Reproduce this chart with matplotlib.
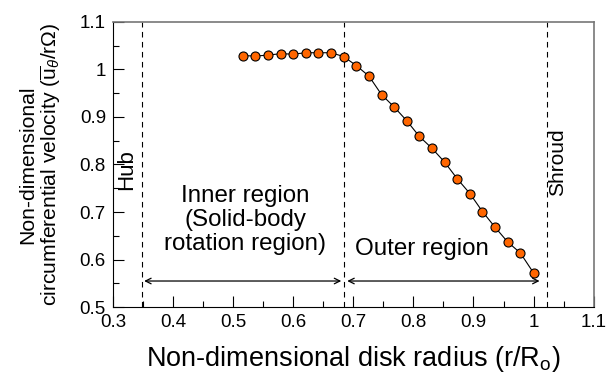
import matplotlib
matplotlib.use("Agg")
import matplotlib.pyplot as plt
from matplotlib.ticker import MultipleLocator

plt.rcParams['font.family'] = ['Liberation Sans', 'DejaVu Sans']
plt.rcParams['mathtext.fontset'] = 'custom'
plt.rcParams['mathtext.rm'] = 'Liberation Sans'
plt.rcParams['mathtext.it'] = 'Liberation Sans:italic'

# Data
radius = [0.516, 0.537, 0.558, 0.579, 0.600, 0.621, 0.642, 0.663, 0.684,
          0.705, 0.726, 0.747, 0.768, 0.789, 0.810, 0.831, 0.852, 0.873,
          0.894, 0.915, 0.936, 0.957, 0.978, 1.000]
velocity = [1.029, 1.028, 1.030, 1.033, 1.032, 1.035, 1.035, 1.035, 1.027,
            1.008, 0.986, 0.947, 0.921, 0.892, 0.859, 0.834, 0.805, 0.770,
            0.739, 0.701, 0.668, 0.637, 0.614, 0.572]
hub_r = 0.348
split_r = 0.685
shroud_r = 1.023
xt = [0.3, 0.4, 0.5, 0.6, 0.7, 0.8, 0.9, 1.0, 1.1]
xt_labels = ['0.3', '0.4', '0.5', '0.6', '0.7', '0.8', '0.9', '1', '1.1']
yt = [0.5, 0.6, 0.7, 0.8, 0.9, 1.0, 1.1]
yt_labels = ['0.5', '0.6', '0.7', '0.8', '0.9', '1', '1.1']

fig, ax = plt.subplots(figsize=(6.07, 3.83), dpi=100)
fig.subplots_adjust(left=0.186, right=0.978, top=0.943, bottom=0.198)

ax.plot(radius, velocity, '-', color='black', lw=0.8, marker='o', ms=6.5,
        mfc='#FF6600', mec='black', mew=0.8, zorder=3)

for xv in (hub_r, split_r, shroud_r):
    ax.axvline(xv, color='black', ls=(0, (5, 4)), lw=0.8)

arrow = dict(arrowstyle='<->', color='black', lw=0.9, shrinkA=0, shrinkB=0)
ax.annotate('', xy=(0.352, 0.555), xytext=(0.680, 0.555), arrowprops=arrow)
ax.annotate('', xy=(0.690, 0.555), xytext=(1.010, 0.555), arrowprops=arrow)

ax.text(0.323, 0.789, 'Hub', rotation=90, ha='center', va='center', fontsize=16)
ax.text(1.040, 0.804, 'Shroud', rotation=90, ha='center', va='center', fontsize=15)
ax.text(0.520, 0.683, 'Inner region\n(Solid-body\nrotation region)',
        ha='center', va='center', fontsize=17.4, linespacing=1.13)
ax.text(0.814, 0.610, 'Outer region', ha='center', va='baseline', fontsize=17.4)

ax.set_xlim(0.3, 1.1)
ax.set_ylim(0.5, 1.1)
ax.set_xticks(xt)
ax.set_xticklabels(xt_labels)
ax.set_yticks(yt)
ax.set_yticklabels(yt_labels)
ax.xaxis.set_minor_locator(MultipleLocator(0.05))
ax.yaxis.set_minor_locator(MultipleLocator(0.05))
ax.tick_params(which='both', direction='in', labelsize=13.5, top=False, right=False)
ax.tick_params(which='major', length=8, width=0.8, pad=5)
ax.tick_params(which='minor', length=4, width=0.8)

for s in ('top', 'right'):
    ax.spines[s].set_color('#777777')
    ax.spines[s].set_linewidth(1.2)

ax.set_xlabel('Non-dimensional disk radius (r/R$_\\mathrm{o}$)', fontsize=19.5, labelpad=9)
ax.set_ylabel('Non-dimensional\ncircumferential velocity ($\\overline{\\mathrm{u}}_\\theta$/r$\\mathrm{\\Omega}$)',
              fontsize=15.2, labelpad=12, linespacing=1.1)

fig.savefig('out.png', dpi=100)
